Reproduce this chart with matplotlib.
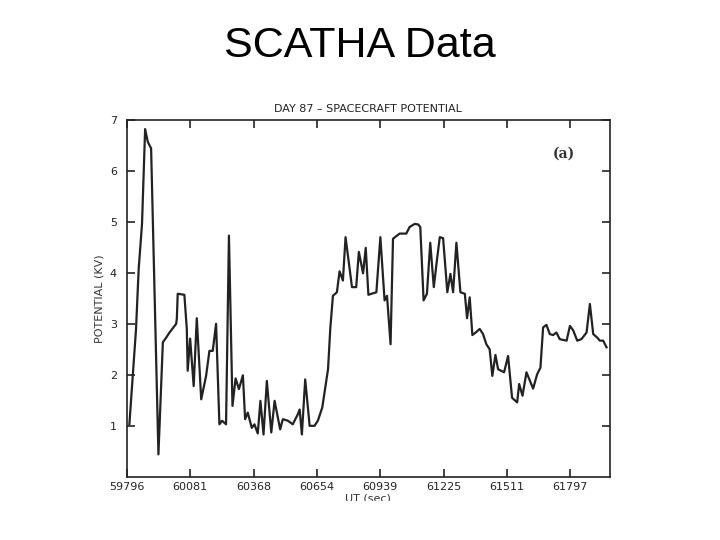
import matplotlib
matplotlib.use("Agg")
import matplotlib.pyplot as plt

# UT (sec) and spacecraft potential (kV)
ut_sec = [59808, 59838, 59850, 59865, 59879, 59891, 59906, 59939, 59959, 59974,
          59989, 60019, 60022, 60026, 60056, 60067, 60071, 60082, 60098, 60112,
          60132, 60154, 60169, 60184, 60199, 60214, 60226, 60244, 60257, 60273,
          60287, 60302, 60320, 60330, 60342, 60360, 60372, 60387, 60399, 60413,
          60428, 60448, 60463, 60488, 60500, 60523, 60545, 60568, 60576, 60586,
          60601, 60621, 60643, 60658, 60678, 60704, 60714, 60726, 60744, 60756,
          60771, 60783, 60812, 60831, 60843, 60862, 60874, 60886, 60922, 60940,
          60959, 60970, 60986, 60997, 61027, 61057, 61072, 61095, 61110, 61120,
          61135, 61150, 61165, 61181, 61196, 61208, 61223, 61242, 61256, 61268,
          61283, 61301, 61321, 61331, 61343, 61355, 61370, 61388, 61403, 61418,
          61433, 61445, 61459, 61471, 61498, 61516, 61534, 61557, 61566, 61581,
          61599, 61629, 61647, 61662, 61674, 61689, 61704, 61719, 61734, 61749,
          61780, 61795, 61810, 61828, 61847, 61870, 61885, 61900, 61918, 61930,
          61945, 61960]
potential_kv = [1.03, 2.90, 4.08, 4.96, 6.82, 6.57, 6.44, 0.44, 2.64, 2.73,
                2.83, 3.00, 3.10, 3.59, 3.57, 2.90, 2.08, 2.71, 1.78, 3.11,
                1.52, 1.98, 2.47, 2.47, 3.00, 1.03, 1.10, 1.03, 4.73, 1.39,
                1.93, 1.72, 1.99, 1.13, 1.26, 0.96, 1.03, 0.85, 1.49, 0.83,
                1.88, 0.87, 1.49, 0.93, 1.13, 1.10, 1.03, 1.23, 1.32, 0.83,
                1.91, 1.00, 1.00, 1.10, 1.36, 2.11, 2.90, 3.55, 3.62, 4.03,
                3.85, 4.70, 3.72, 3.72, 4.41, 3.99, 4.49, 3.57, 3.62, 4.70,
                3.46, 3.55, 2.60, 4.67, 4.77, 4.77, 4.90, 4.96, 4.95, 4.90,
                3.46, 3.59, 4.59, 3.72, 4.28, 4.70, 4.68, 3.62, 3.98, 3.62,
                4.59, 3.62, 3.59, 3.11, 3.52, 2.78, 2.83, 2.90, 2.80, 2.60,
                2.50, 1.98, 2.39, 2.11, 2.05, 2.37, 1.55, 1.46, 1.82, 1.59,
                2.05, 1.73, 2.01, 2.14, 2.93, 2.98, 2.80, 2.78, 2.83, 2.70,
                2.67, 2.96, 2.87, 2.67, 2.70, 2.83, 3.39, 2.80, 2.73, 2.67,
                2.67, 2.54]

x_ticks = [59796, 60081, 60368, 60654, 60939, 61225, 61511, 61797]
y_ticks = [1, 2, 3, 4, 5, 6, 7]

fig = plt.figure(figsize=(7.2, 5.4), dpi=100)
fig.text(0.5, 0.915, "SCATHA Data", ha="center", va="center",
         fontsize=31, family="Liberation Sans", color="black")

ax = fig.add_axes([0.176, 0.117, 0.671, 0.661])
ax.plot(ut_sec, potential_kv, color="#222222", lw=1.6)
ax.set_xlim(59796, 61975)
ax.set_ylim(0, 7)

ax.set_xticks(x_ticks)
ax.set_xticklabels([str(t) for t in x_ticks])
ax.set_yticks(y_ticks)
ax.set_yticklabels([str(t) for t in y_ticks])
ax.tick_params(direction="in", length=6, width=1.2, top=True, right=True,
               labelsize=8, colors="#222222", pad=4)
ax.tick_params(axis="y", pad=7)
for s in ax.spines.values():
    s.set_linewidth(1.2)
    s.set_color("#222222")

ax.set_title("DAY 87 \u2013 SPACECRAFT POTENTIAL", fontsize=8, color="#222222", pad=6)
ax.set_ylabel("POTENTIAL (KV)", fontsize=8, color="#333333", labelpad=4)
ax.set_xlabel("UT (sec)", fontsize=8, color="#333333", labelpad=1)
ax.text(0.905, 0.905, "(a)", transform=ax.transAxes, fontsize=10,
        fontweight="bold", family="DejaVu Serif", color="#333333",
        ha="center", va="center")

# the scan is cut off through the x axis label
fig.patches.append(plt.Rectangle((0, 0), 1, 0.073, transform=fig.transFigure,
                                 facecolor="white", edgecolor="none", zorder=10))

fig.savefig("out.png", dpi=100)
